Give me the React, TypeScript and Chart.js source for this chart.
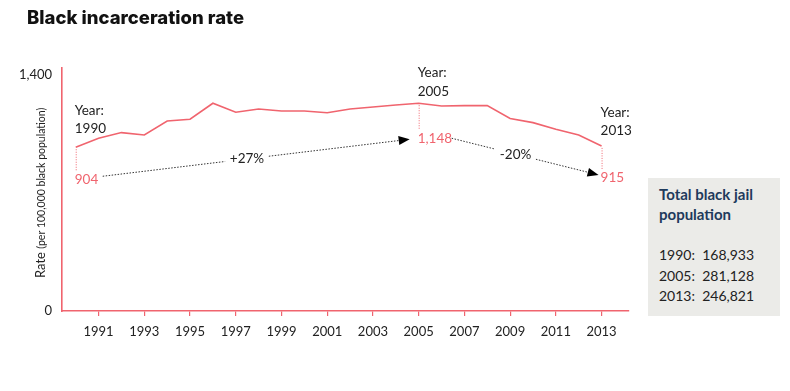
import React, { useEffect, useRef } from "react";
import { Chart, registerables } from "chart.js";

Chart.register(...registerables);

const years = [1990, 1991, 1992, 1993, 1994, 1995, 1996, 1997, 1998, 1999, 2000, 2001, 2002, 2003, 2004, 2005, 2006, 2007, 2008, 2009, 2010, 2011, 2012, 2013];
const rates = [971, 1024, 1058, 1044, 1127, 1137, 1232, 1179, 1198, 1186, 1186, 1176, 1198, 1210, 1222, 1232, 1216, 1218, 1218, 1142, 1117, 1078, 1044, 979];
const xTickYears = [1991, 1993, 1995, 1997, 1999, 2001, 2003, 2005, 2007, 2009, 2011, 2013];
const yTickValues = [0, 1400];
const markerYears = [1990, 2005, 2013];
const markerLabels = ["904", "1,148", "915"];
const changeLabels = ["+27%", "-20%"];
const boxTitle = ["Total black jail", "population"];
const boxLines = ["1990:  168,933", "2005:  281,128", "2013:  246,821"];
const chartTitle = "Black incarceration rate";

const PINK = "#f0646e";
const DARK = "#222222";
const FONT = "Lato, 'Open Sans', sans-serif";
const TITLE_FONT = "Inter, 'Open Sans', sans-serif";

function drawArrow(ctx: CanvasRenderingContext2D, x1: number, y1: number, x2: number, y2: number, label: string, t: number, gapHalf: number) {
  const dx = x2 - x1, dy = y2 - y1;
  const len = Math.hypot(dx, dy);
  const ux = dx / len, uy = dy / len;
  const head = 11;
  const lx = x1 + dx * t, ly = y1 + dy * t;
  ctx.save();
  ctx.strokeStyle = "#333";
  ctx.lineWidth = 1;
  ctx.setLineDash([1.5, 1.5]);
  ctx.beginPath();
  ctx.moveTo(x1, y1);
  ctx.lineTo(lx - ux * gapHalf, ly - uy * gapHalf);
  ctx.moveTo(lx + ux * gapHalf, ly + uy * gapHalf);
  ctx.lineTo(x2 - ux * head, y2 - uy * head);
  ctx.stroke();
  ctx.setLineDash([]);
  ctx.fillStyle = "#000";
  ctx.beginPath();
  ctx.moveTo(x2, y2);
  ctx.lineTo(x2 - ux * head - uy * 4.5, y2 - uy * head + ux * 4.5);
  ctx.lineTo(x2 - ux * head + uy * 4.5, y2 - uy * head - ux * 4.5);
  ctx.closePath();
  ctx.fill();
  ctx.fillStyle = DARK;
  ctx.font = `13.5px ${FONT}`;
  ctx.textAlign = "center";
  ctx.textBaseline = "middle";
  ctx.fillText(label, lx, ly);
  ctx.restore();
}

const annotPlugin = {
  id: "annot",
  afterDraw(chart: any) {
    const ctx: CanvasRenderingContext2D = chart.ctx;
    const xs = chart.scales.x, ys = chart.scales.y;
    const px = (yr: number) => xs.getPixelForValue(yr);
    const py = (yr: number) => ys.getPixelForValue(rates[years.indexOf(yr)]);
    ctx.save();
    // title
    ctx.fillStyle = "#111";
    ctx.font = `800 18.5px ${TITLE_FONT}`;
    ctx.textAlign = "left";
    ctx.textBaseline = "middle";
    ctx.fillText(chartTitle, 27, 18);

    // y axis title (rotated)
    ctx.save();
    ctx.translate(41, 278);
    ctx.rotate(-Math.PI / 2);
    ctx.textBaseline = "middle";
    ctx.textAlign = "left";
    ctx.fillStyle = DARK;
    ctx.font = `13px ${FONT}`;
    ctx.fillText("Rate ", 0, 0);
    const w = ctx.measureText("Rate ").width;
    ctx.font = `10.5px ${FONT}`;
    ctx.fillText("(per 100,000 black population)", w, 0.5);
    ctx.restore();

    // markers
    const yearOff = [[-37, -19], [-31, -12], [-33, -15]];
    const lineEnd = [24, 26, 24];
    const valOff = [32, 35, 32];
    markerYears.forEach((yr, i) => {
      const x = px(yr), y = py(yr);
      ctx.strokeStyle = PINK;
      ctx.lineWidth = 1;
      ctx.setLineDash([1, 1.5]);
      ctx.beginPath();
      ctx.moveTo(x + 0.5, y + 2);
      ctx.lineTo(x + 0.5, y + lineEnd[i]);
      ctx.stroke();
      ctx.setLineDash([]);
      ctx.font = `13.5px ${FONT}`;
      ctx.textAlign = "left";
      ctx.textBaseline = "middle";
      ctx.fillStyle = DARK;
      ctx.fillText("Year:", x - 1, y + yearOff[i][0]);
      ctx.fillText(String(yr), x - 1, y + yearOff[i][1]);
      ctx.fillStyle = PINK;
      ctx.fillText(markerLabels[i], x - 1, y + valOff[i]);
    });

    // arrows
    const a = markerYears;
    drawArrow(ctx, px(a[0]) + 27, py(a[0]) + 29, px(a[1]) - 9, py(a[1]) + 36, changeLabels[0], 0.47, 22);
    drawArrow(ctx, px(a[1]) + 33, py(a[1]) + 35, px(a[2]) - 3, py(a[2]) + 29, changeLabels[1], 0.435, 21);
    ctx.restore();
  },
};

export default function App() {
  const ref = useRef<HTMLCanvasElement | null>(null);
  useEffect(() => {
    if (!ref.current) return;
    const chart = new Chart(ref.current, {
      type: "line",
      data: {
        datasets: [
          {
            data: years.map((y, i) => ({ x: y, y: rates[i] })),
            borderColor: PINK,
            borderWidth: 1.6,
            pointRadius: 0,
            tension: 0,
            fill: false,
          },
        ],
      },
      options: {
        animation: false,
        responsive: false,
        events: [],
        layout: { padding: { left: 0, top: 68, right: 161, bottom: 0 } },
        plugins: { legend: { display: false }, tooltip: { enabled: false }, title: { display: false } },
        scales: {
          x: {
            type: "linear",
            min: 1989.4,
            max: 2014.2,
            afterBuildTicks: (s: any) => {
              s.ticks = xTickYears.map((v) => ({ value: v }));
            },
            afterFit: (s: any) => {
              s.height = 80;
            },
            grid: { display: true, drawOnChartArea: false, drawTicks: true, tickLength: 5, color: PINK, lineWidth: 1.2 },
            border: { display: true, color: PINK, width: 1.6 },
            ticks: {
              padding: 8,
              color: DARK,
              font: { family: FONT, size: 13 },
              maxRotation: 0,
              autoSkip: false,
              callback: (v: any) => String(v),
            },
          },
          y: {
            min: 0,
            max: 1441,
            afterBuildTicks: (s: any) => {
              s.ticks = yTickValues.map((v) => ({ value: v }));
            },
            afterFit: (s: any) => {
              s.width = 62;
            },
            grid: { display: false, drawTicks: false },
            border: { display: true, color: PINK, width: 1.6 },
            ticks: {
              padding: 10,
              color: DARK,
              font: { family: FONT, size: 13 },
              callback: (v: any) => Number(v).toLocaleString("en-US"),
            },
          },
        },
      },
      plugins: [annotPlugin],
    });
    return () => chart.destroy();
  }, []);

  return (
    <div style={{ position: "fixed", left: 0, top: 0, width: 790, height: 391, background: "#fff" }}>
      <canvas ref={ref} width={790} height={391} style={{ position: "absolute", left: 0, top: 0, width: 790, height: 391 }} />
      <div
        style={{
          position: "absolute",
          left: 648,
          top: 178,
          width: 132,
          height: 138,
          background: "#ebebe8",
          boxSizing: "border-box",
          padding: "6px 0 0 11px",
          fontFamily: FONT,
        }}
      >
        <div style={{ color: "#1e3a5c", fontWeight: 700, fontSize: 15, lineHeight: "20px" }}>
          {boxTitle.map((t) => (
            <div key={t}>{t}</div>
          ))}
        </div>
        <div style={{ marginTop: 21, color: DARK, fontSize: 14, lineHeight: "20.5px", whiteSpace: "pre" }}>
          {boxLines.map((t) => (
            <div key={t}>{t}</div>
          ))}
        </div>
      </div>
    </div>
  );
}
